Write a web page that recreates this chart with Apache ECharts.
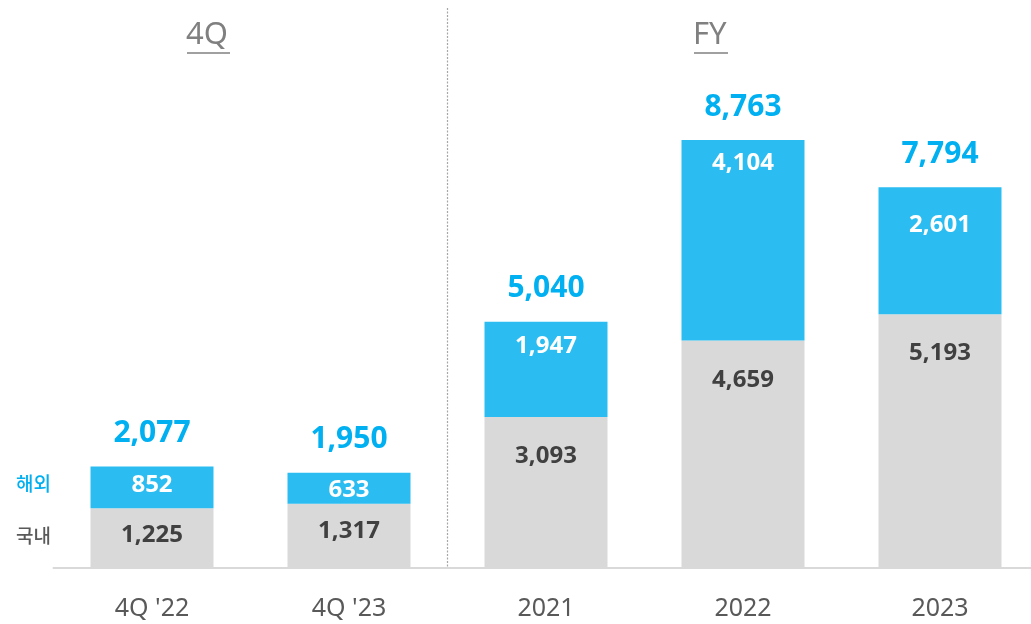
<!DOCTYPE html>
<html><head><meta charset="utf-8">
<script src="https://cdn.jsdelivr.net/npm/echarts@6/dist/echarts.min.js"></script>
<style>html,body{margin:0;padding:0;background:#fff;overflow:hidden}#c{width:1045px;height:624px}</style>
</head><body><div id="c"></div>
<script>
const categories = ["4Q '22", "4Q '23", "2021", "2022", "2023"];
const domestic = [1225, 1317, 3093, 4659, 5193];
const overseas = [852, 633, 1947, 4104, 2601];
const totals = [2077, 1950, 5040, 8763, 7794];
const groupTitles = ["4Q", "FY"];
const legendNames = ["해외", "국내"];

// label offsets (px from top of each segment) - styling only
const domLabelY = [27, 27, 39, 40, 39];
const ovsLabelY = [19, 17, 24, 23, 38];

const FONT = '"Noto Sans", "Noto Sans CJK KR", sans-serif';
const chart = echarts.init(document.getElementById('c'));
const fmt = v => v.toLocaleString('en-US');

chart.setOption({
  animation: false,
  grid: { left: 53.5, top: 79.6, bottom: 56, width: 985 },
  xAxis: {
    type: 'category', data: categories,
    axisLine: { lineStyle: { color: '#d9d9d9', width: 2 } },
    axisTick: { show: false },
    axisLabel: { color: '#595959', fontSize: 25, fontFamily: FONT, margin: 28 }
  },
  yAxis: { type: 'value', min: 0, max: 10000, show: false, splitLine: { show: false } },
  series: [
    {
      name: legendNames[1], type: 'bar', stack: 's', barWidth: 123,
      itemStyle: { color: '#d9d9d9' },
      data: domestic.map((v, i) => ({
        value: v,
        label: { position: ['50%', domLabelY[i]] }
      })),
      label: { show: true, align: 'center', verticalAlign: 'middle', color: '#404040', fontSize: 24, fontWeight: 'bold', fontFamily: FONT, formatter: p => fmt(p.value) }
    },
    {
      name: legendNames[0], type: 'bar', stack: 's', barWidth: 123,
      itemStyle: { color: '#2bbdf1' },
      data: overseas.map((v, i) => ({
        value: v,
        label: { position: ['50%', ovsLabelY[i]] }
      })),
      label: { show: true, align: 'center', verticalAlign: 'middle', color: '#ffffff', fontSize: 24, fontWeight: 'bold', fontFamily: FONT, formatter: p => fmt(p.value) }
    },
    {
      type: 'line', data: totals, symbol: 'circle', symbolSize: 2, showSymbol: true,
      itemStyle: { color: 'rgba(0,0,0,0)' }, lineStyle: { color: 'rgba(0,0,0,0)', width: 0 },
      label: { show: true, position: 'top', distance: 17, color: '#00b0f0', fontSize: 30, fontWeight: 'bold', fontFamily: FONT, formatter: p => fmt(p.value) },
      z: 5
    }
  ],
  graphic: [
    { type: 'line', shape: { x1: 447.5, y1: 8, x2: 447.5, y2: 568 }, style: { stroke: '#a6a6a6', lineWidth: 1.2, lineDash: [2, 1.5] } },
    { type: 'text', left: 186, top: 20, style: { text: groupTitles[0], fill: '#808080', fontSize: 31, fontFamily: FONT } },
    { type: 'line', shape: { x1: 187, y1: 53, x2: 230, y2: 53 }, style: { stroke: '#808080', lineWidth: 1.5 } },
    { type: 'text', left: 693, top: 20, style: { text: groupTitles[1], fill: '#808080', fontSize: 31, fontFamily: FONT } },
    { type: 'line', shape: { x1: 694, y1: 53, x2: 728, y2: 53 }, style: { stroke: '#808080', lineWidth: 1.5 } },
    { type: 'text', left: 16, top: 476, style: { text: legendNames[0], fill: '#00b0f0', fontSize: 19, fontWeight: 500, fontFamily: FONT } },
    { type: 'text', left: 16, top: 528, style: { text: legendNames[1], fill: '#595959', fontSize: 19, fontWeight: 500, fontFamily: FONT } }
  ]
});
</script></body></html>
